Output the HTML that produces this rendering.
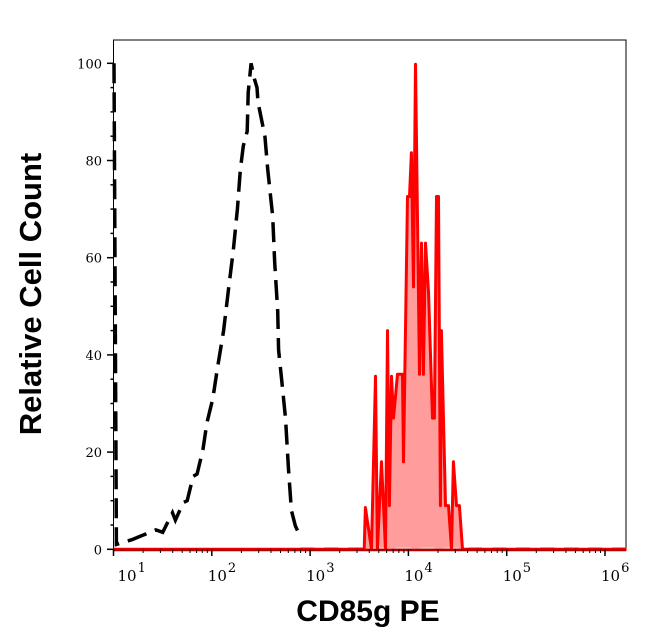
<!DOCTYPE html>
<html><head><meta charset="utf-8"><style>
html,body{margin:0;padding:0;background:#fff;}
svg{display:block;}
</style></head><body>
<svg id="chart" width="646" height="641" xmlns="http://www.w3.org/2000/svg">
<rect width="646" height="641" fill="#fff"/>
<g id="plot"></g>
<text transform="translate(41,294) rotate(-90)" text-anchor="middle" font-family="Liberation Sans, sans-serif" font-weight="bold" font-size="31">Relative Cell Count</text>
<text x="368" y="621" text-anchor="middle" font-family="Liberation Sans, sans-serif" font-weight="bold" font-size="30">CD85g PE</text>
</svg>
<script>
const yTicks=[0,20,40,60,80,100];
const xDecades=[1,2,3,4,5,6];
// control (dashed black): log10 intensity, relative count
const ctrlX=[1.005,1.03,1.19,1.25,1.43,1.50,1.60,1.63,1.71,1.75,1.81,1.85,1.91,1.95,2.01,2.06,2.12,2.17,2.22,2.26,2.29,2.32,2.36,2.37,2.40,2.43,2.46,2.47,2.54,2.57,2.62,2.64,2.67,2.68,2.71,2.75,2.78,2.81,2.85,2.88];
const ctrlY=[100,1,2,2.5,4,3.5,7.5,6,9.6,10,15,15.5,20.6,26,31,37.6,45,53.5,61.7,70,78,83,86,94,100,97,95,92,85,78,68.5,59,49,41,35,27,16.5,8,4.8,3.5];
// stained (red filled)
const stX=[1.0,3.55,3.563,3.625,3.665,3.685,3.726,3.767,3.787,3.807,3.828,3.848,3.889,3.94,3.95,3.991,4.011,4.031,4.052,4.072,4.113,4.133,4.153,4.174,4.204,4.245,4.265,4.286,4.306,4.326,4.336,4.377,4.408,4.438,4.458,4.489,4.519,4.55,6.22];
const stY=[0,0,8.6,0,35.6,0,18,0,45,9,35.6,27,36,36,18,72.6,72.6,81.6,54,99.8,36,63,36,63,53,27,27,72.6,72.6,9,45,9,9,0,18,9,9,0,0];
// background gray near-baseline trace
const bgX=[2.9,3.5,4.5,6.2];
const bgY=[0.3,0.3,0.3,0.3];

const X0=113.5,DEC=98.3,Y0=549.3,YS=4.86;
const sx=l=>X0+(l-1)*DEC;
const sy=v=>Y0-v*YS;
const NS='http://www.w3.org/2000/svg';
const g=document.getElementById('plot');
function mk(t,a){const e=document.createElementNS(NS,t);for(const k in a)e.setAttribute(k,a[k]);g.appendChild(e);return e;}

const fr=mk('rect',{x:113.5,y:40,width:512.5,height:509.3,fill:'none',stroke:'#000','stroke-width':1});



let d='M'+sx(stX[0])+','+sy(0);
stX.forEach((x,i)=>{d+=' L'+sx(x).toFixed(1)+','+sy(stY[i]).toFixed(1);});
d+=' L'+sx(stX[stX.length-1])+','+sy(0)+' Z';
const fill=mk('path',{d:d,fill:'#ff9d9d',stroke:'none'});



const bg=mk('path',{d:'M'+bgX.map((x,i)=>sx(x).toFixed(1)+','+sy(bgY[i]).toFixed(1)).join(' L'),fill:'none',stroke:'#ccc','stroke-width':1.5,'stroke-dasharray':'14 10'});



const ctrl=mk('path',{d:'M'+ctrlX.map((x,i)=>sx(x).toFixed(1)+','+sy(ctrlY[i]).toFixed(1)).join(' L'),fill:'none',stroke:'#000','stroke-width':3.5,'stroke-dasharray':'20 9'});



const st=mk('path',{d:'M'+stX.map((x,i)=>sx(x).toFixed(1)+','+sy(stY[i]).toFixed(1)).join(' L'),fill:'none',stroke:'#ff0000','stroke-width':3,'stroke-linejoin':'round'});



const base=mk('line',{x1:113.5,x2:626,y1:550,y2:550,stroke:'#b00000','stroke-width':2.5});



for(let v=0;v<=100;v+=5){
  const major=yTicks.includes(v);
  const t=mk('line',{x1:major?107:110.5,x2:113.5,y1:sy(v),y2:sy(v),stroke:'#000','stroke-width':1.5});
  
  
}
yTicks.forEach(v=>{
  const t=mk('text',{x:102,y:sy(v)+5,'text-anchor':'end','font-family':'DejaVu Serif, serif','font-size':13});
  t.textContent=v;
  
  
});
xDecades.forEach(dv=>{
  const t=mk('line',{x1:sx(dv),x2:sx(dv),y1:549.3,y2:556,stroke:'#000','stroke-width':1.5});
  
  
  if(dv<6){for(let m=2;m<=9;m++){
    const mt=mk('line',{x1:sx(dv+Math.log10(m)),x2:sx(dv+Math.log10(m)),y1:549.3,y2:553,stroke:'#000','stroke-width':1});
    
    
  }}
  const lb=mk('text',{x:sx(dv)+(dv===1?4:-4),y:581,'font-family':'DejaVu Serif, serif','font-size':15});
  lb.textContent='10';
  const sp=document.createElementNS(NS,'tspan');
  sp.setAttribute('dy','-9');sp.setAttribute('font-size','13');sp.setAttribute('dx','1');
  sp.textContent=dv;lb.appendChild(sp);
  
  
});
</script>
</body></html>
